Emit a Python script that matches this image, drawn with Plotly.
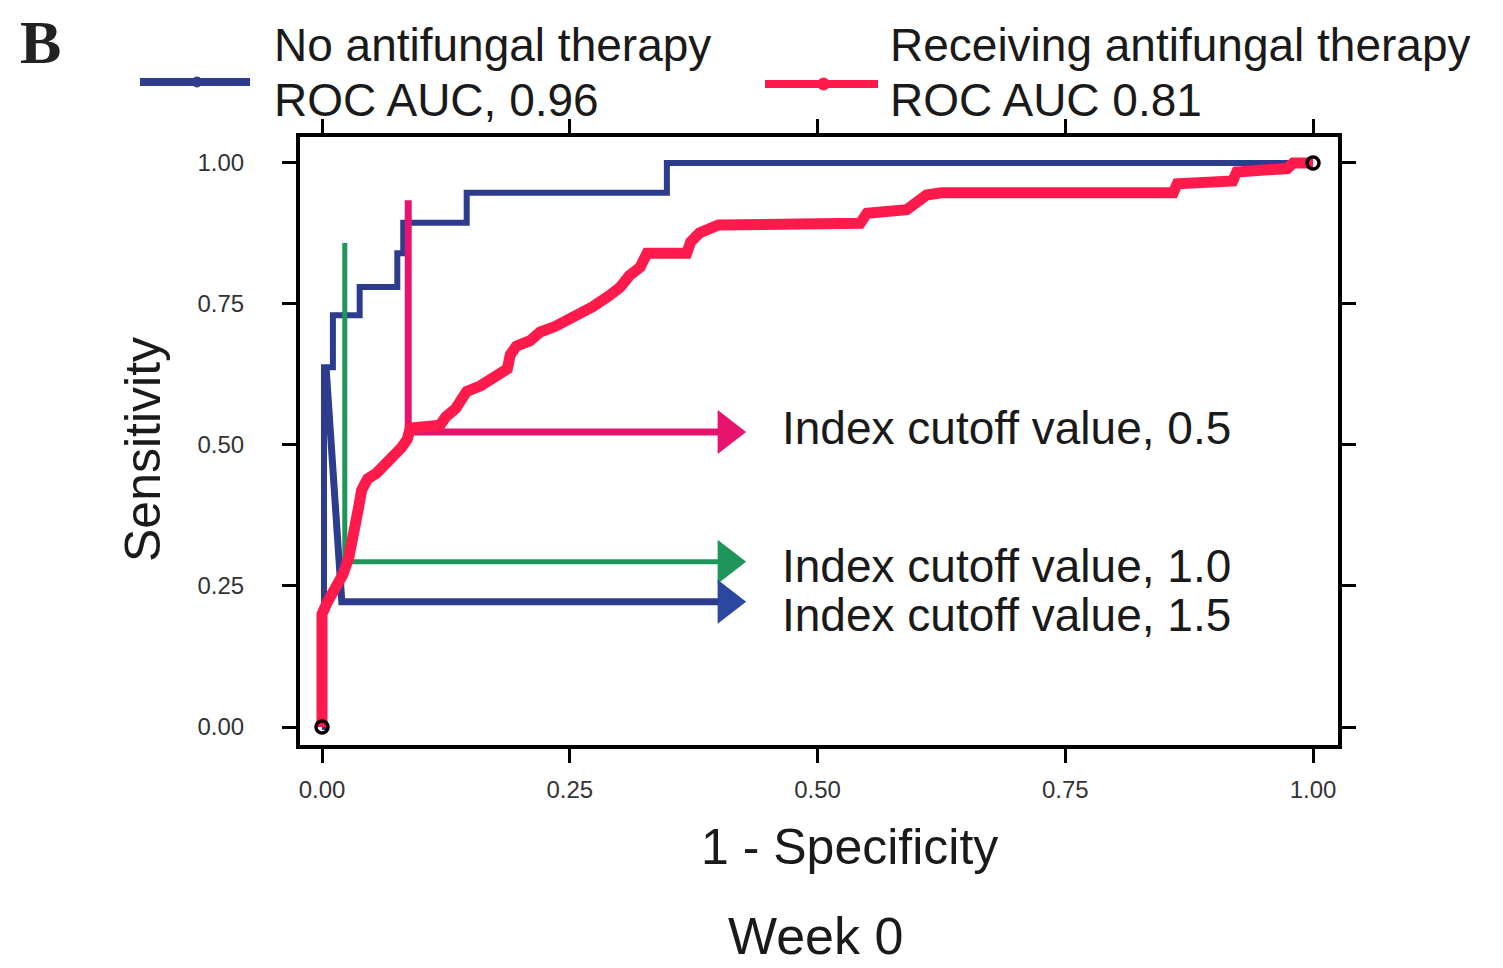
import plotly.graph_objects as go

# ---------------- data ----------------
x_ticks = [0.0, 0.25, 0.5, 0.75, 1.0]
x_ticklabels = ["0.00", "0.25", "0.50", "0.75", "1.00"]
y_ticks = [0.0, 0.25, 0.5, 0.75, 1.0]
y_ticklabels = ["0.00", "0.25", "0.50", "0.75", "1.00"]

# No antifungal therapy (ROC AUC 0.96)
blue_x = [0, 0.002, 0.002, 0.011, 0.011, 0.038, 0.038, 0.076, 0.076, 0.082, 0.082,
          0.146, 0.146, 0.348, 0.348, 1.0]
blue_y = [0, 0, 0.638, 0.638, 0.73, 0.73, 0.78, 0.78, 0.84, 0.84, 0.894,
          0.894, 0.947, 0.947, 1.0, 1.0]

# Receiving antifungal therapy (ROC AUC 0.81)
red_x = [0, 0, 0.005, 0.012, 0.021, 0.027, 0.031, 0.034, 0.037, 0.040, 0.046, 0.055,
         0.061, 0.068, 0.074, 0.080, 0.086, 0.089, 0.119, 0.125, 0.135, 0.146, 0.160,
         0.172, 0.187, 0.190, 0.196, 0.210, 0.220, 0.235, 0.247, 0.260, 0.273, 0.290,
         0.301, 0.310, 0.321, 0.328, 0.368, 0.372, 0.381, 0.400, 0.543, 0.550, 0.590,
         0.610, 0.625, 0.859, 0.863, 0.919, 0.923, 0.974, 0.980, 1.0]
red_y = [0, 0.20, 0.22, 0.24, 0.27, 0.30, 0.33, 0.36, 0.39, 0.42, 0.44, 0.45,
         0.46, 0.47, 0.485, 0.495, 0.51, 0.53, 0.535, 0.55, 0.565, 0.595, 0.605,
         0.62, 0.635, 0.66, 0.675, 0.685, 0.70, 0.71, 0.72, 0.735, 0.745, 0.765,
         0.78, 0.80, 0.815, 0.84, 0.84, 0.86, 0.876, 0.89, 0.893, 0.911, 0.917,
         0.943, 0.947, 0.947, 0.963, 0.968, 0.984, 0.99, 1.0, 1.0]

# Cut-off annotation paths (last point = arrow tip)
cut05_x = [0.087, 0.087, 0.43]
cut05_y = [0.934, 0.523, 0.523]
cut10_x = [0.023, 0.023, 0.43]
cut10_y = [0.858, 0.293, 0.293]
cut15_x = [0.004, 0.020, 0.43]
cut15_y = [0.640, 0.222, 0.222]

cut_labels = ["Index cutoff value, 0.5", "Index cutoff value, 1.0", "Index cutoff value, 1.5"]
cut_label_y = [0.530, 0.285, 0.199]
cut_label_x = 0.462

end_x = [0, 1]
end_y = [0, 1]

# ---------------- style ----------------
W, H = 1503, 968
PX0, PX1 = 300, 1338
PY0, PY1 = 137, 745
XR = [-0.0222, 1.0252]
YR = [-0.0319, 1.046]
dx_per_px = (XR[1] - XR[0]) / (PX1 - PX0)

BLUE = "#2D3C8C"
RED = "#FF1A4C"
PINK = "#E6146E"
GREEN = "#1E965A"
FONT = "Liberation Sans"

fig = go.Figure()

fig.add_trace(go.Scatter(x=blue_x, y=blue_y, mode="lines",
                         line=dict(color=BLUE, width=6), hoverinfo="skip"))

head = 21 * dx_per_px
for cx, cy, col, w, hc in [(cut10_x, cut10_y, GREEN, 5, GREEN),
                           (cut15_x, cut15_y, BLUE, 7, "#2B47A0"),
                           (cut05_x, cut05_y, PINK, 7, PINK)]:
    xs = list(cx[:-1]) + [cx[-1] - head]
    fig.add_trace(go.Scatter(x=xs, y=cy, mode="lines",
                             line=dict(color=col, width=w), hoverinfo="skip"))
    fig.add_trace(go.Scatter(x=[cx[-1] - head], y=[cy[-1]], mode="markers",
                             marker=dict(symbol="triangle-right", size=38, color=hc,
                                         line=dict(width=0)), hoverinfo="skip"))

fig.add_trace(go.Scatter(x=red_x, y=red_y, mode="lines",
                         line=dict(color=RED, width=11), hoverinfo="skip"))

fig.add_trace(go.Scatter(x=end_x, y=end_y, mode="markers",
                         marker=dict(symbol="circle-open", size=12, color="black",
                                     line=dict(width=3.5, color="black")), hoverinfo="skip"))

axis_common = dict(ticks="outside", ticklen=14, tickwidth=3, tickcolor="black",
                   showline=True, linewidth=4, linecolor="black", mirror="allticks",
                   showgrid=False, zeroline=False,
                   tickfont=dict(family=FONT, size=24, color="#333333"))

fig.update_layout(
    width=W, height=H, margin=dict(l=0, r=0, t=0, b=0),
    paper_bgcolor="white", plot_bgcolor="white", showlegend=False,
    xaxis=dict(domain=[PX0 / W, PX1 / W], range=XR, tickvals=x_ticks,
               ticktext=x_ticklabels, ticklabelstandoff=6, **axis_common),
    yaxis=dict(domain=[1 - PY1 / H, 1 - PY0 / H], range=YR, tickvals=y_ticks,
               ticktext=y_ticklabels, ticklabelstandoff=33, **axis_common),
)

def P(px, py):
    return px / W, 1 - py / H

ann = []
def txt(text, px, py, size, xanchor="left", family=FONT, color="#1a1a1a", angle=0, bold=False):
    x, y = P(px, py)
    t = f"<b>{text}</b>" if bold else text
    ann.append(dict(text=t, x=x, y=y, xref="paper", yref="paper", showarrow=False,
                    xanchor=xanchor, yanchor="middle", textangle=angle,
                    font=dict(family=family, size=size, color=color)))

txt("B", 40, 42, 62, xanchor="center", family="Liberation Serif", color="#222", bold=True)
txt("No antifungal therapy", 272, 45, 46)
txt("ROC AUC, 0.96", 272, 100, 46)
txt("Receiving antifungal therapy", 888, 45, 46)
txt("ROC AUC 0.81", 888, 100, 46)
txt("Sensitivity", 143, 450, 50, xanchor="center", angle=-90)
txt("1 - Specificity", 850, 847, 50, xanchor="center")
txt("Week 0", 815, 936, 52, xanchor="center")

for lab, ly in zip(cut_labels, cut_label_y):
    ann.append(dict(text=lab, x=cut_label_x, y=ly, xref="x", yref="y", showarrow=False,
                    xanchor="left", yanchor="middle",
                    font=dict(family=FONT, size=46, color="#1a1a1a")))

fig.update_layout(annotations=ann)

# legend samples (manual legend)
shapes = []
for (x0, x1, py, col, r) in [(140, 250, 82, BLUE, 5), (765, 878, 84, RED, 6)]:
    a0, b = P(x0, py)
    a1, _ = P(x1, py)
    shapes.append(dict(type="line", xref="paper", yref="paper", x0=a0, x1=a1, y0=b, y1=b,
                       line=dict(color=col, width=8)))
    cx = (x0 + x1) / 2 + 2
    c0x, c0y = P(cx - r, py - r)
    c1x, c1y = P(cx + r, py + r)
    shapes.append(dict(type="circle", xref="paper", yref="paper", x0=c0x, x1=c1x,
                       y0=c1y, y1=c0y, fillcolor=col, line=dict(color=col, width=1)))
fig.update_layout(shapes=shapes)

fig.write_html("out.html")
